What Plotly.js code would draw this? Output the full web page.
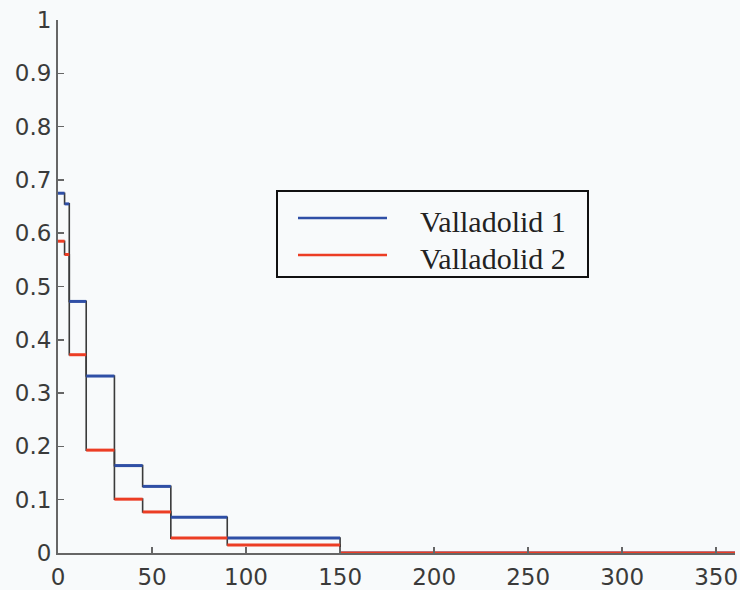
<!DOCTYPE html>
<html>
<head>
<meta charset="utf-8">
<script src="https://cdn.plot.ly/plotly-3.0.1.min.js"></script>
<style>html,body{margin:0;padding:0;background:#f8fafb;}</style>
</head>
<body>
<div id="chart" style="width:740px;height:590px;"></div>
<script>
// Step edges (x) and values for each interval
const edges = [0, 3.5, 6, 15, 30, 45, 60, 90, 150, 360];
const valladolid1 = [0.675, 0.655, 0.472, 0.332, 0.164, 0.125, 0.067, 0.028, 0];
const valladolid2 = [0.585, 0.56, 0.372, 0.193, 0.101, 0.077, 0.028, 0.015, 0];
const seriesNames = ["Valladolid 1", "Valladolid 2"];
const seriesColors = ['#2f4fa6', '#ec3d24'];
const xTicks = [0, 50, 100, 150, 200, 250, 300, 350];
const yTicks = [0, 0.1, 0.2, 0.3, 0.4, 0.5, 0.6, 0.7, 0.8, 0.9, 1];

function stepTrace(vals) {
  const x = edges.slice();
  const y = vals.concat([vals[vals.length - 1]]);
  return {x, y, mode: 'lines', line: {shape: 'hv', color: '#3a3a3a', width: 1.6},
          showlegend: false, hoverinfo: 'skip', cliponaxis: false};
}
function segTrace(vals, name, color) {
  const x = [], y = [];
  for (let i = 0; i < vals.length; i++) {
    x.push(edges[i], edges[i + 1], null);
    y.push(vals[i], vals[i], null);
  }
  return {x, y, name, mode: 'lines', line: {color, width: 3}, connectgaps: false,
          cliponaxis: false, showlegend: false};
}

const data = [
  stepTrace(valladolid1),
  stepTrace(valladolid2),
  segTrace(valladolid1, seriesNames[0], seriesColors[0]),
  segTrace(valladolid2, seriesNames[1], seriesColors[1])
];

// plot area geometry (pixels) for placing the hand-drawn legend box
const M = {l: 58, r: 5, t: 20, b: 37};
const W = 740, H = 590;
const pw = W - M.l - M.r, ph = H - M.t - M.b;
const px = x => (x - M.l) / pw;
const py = y => (H - M.b - y) / ph;

const shapes = [
  {type: 'rect', xref: 'paper', yref: 'paper', x0: px(277), x1: px(588), y0: py(277), y1: py(191),
   line: {color: '#111', width: 2}, fillcolor: 'rgba(0,0,0,0)'}
];
const annotations = [];
const legendY = [218, 255];
seriesNames.forEach((n, i) => {
  shapes.push({type: 'line', xref: 'paper', yref: 'paper', x0: px(298), x1: px(387),
               y0: py(legendY[i]), y1: py(legendY[i]), line: {color: seriesColors[i], width: 2.5}});
  annotations.push({xref: 'paper', yref: 'paper', x: px(418), y: py(legendY[i] + 3), text: n,
                    showarrow: false, xanchor: 'left', yanchor: 'middle',
                    font: {family: 'Liberation Serif', size: 30, color: '#222'}});
});

const tickFont = {family: 'DejaVu Sans', size: 23, color: '#3a3a3a'};
const axisCommon = {showgrid: false, zeroline: false, showline: true, linecolor: '#666', linewidth: 2,
                    ticks: 'inside', ticklen: 6, tickwidth: 1.5, tickcolor: '#666', tickfont: tickFont};
const layout = {
  width: W, height: H,
  margin: M,
  paper_bgcolor: '#f8fafb', plot_bgcolor: '#f8fafb',
  xaxis: Object.assign({range: [0, 360], tickvals: xTicks, ticktext: xTicks.map(String),
                        ticklabelstandoff: 2}, axisCommon),
  yaxis: Object.assign({range: [0, 1], tickvals: yTicks, ticktext: yTicks.map(v => String(v))}, axisCommon),
  showlegend: false,
  shapes, annotations
};

Plotly.newPlot('chart', data, layout, {displayModeBar: false, staticPlot: true});
</script>
</body>
</html>
